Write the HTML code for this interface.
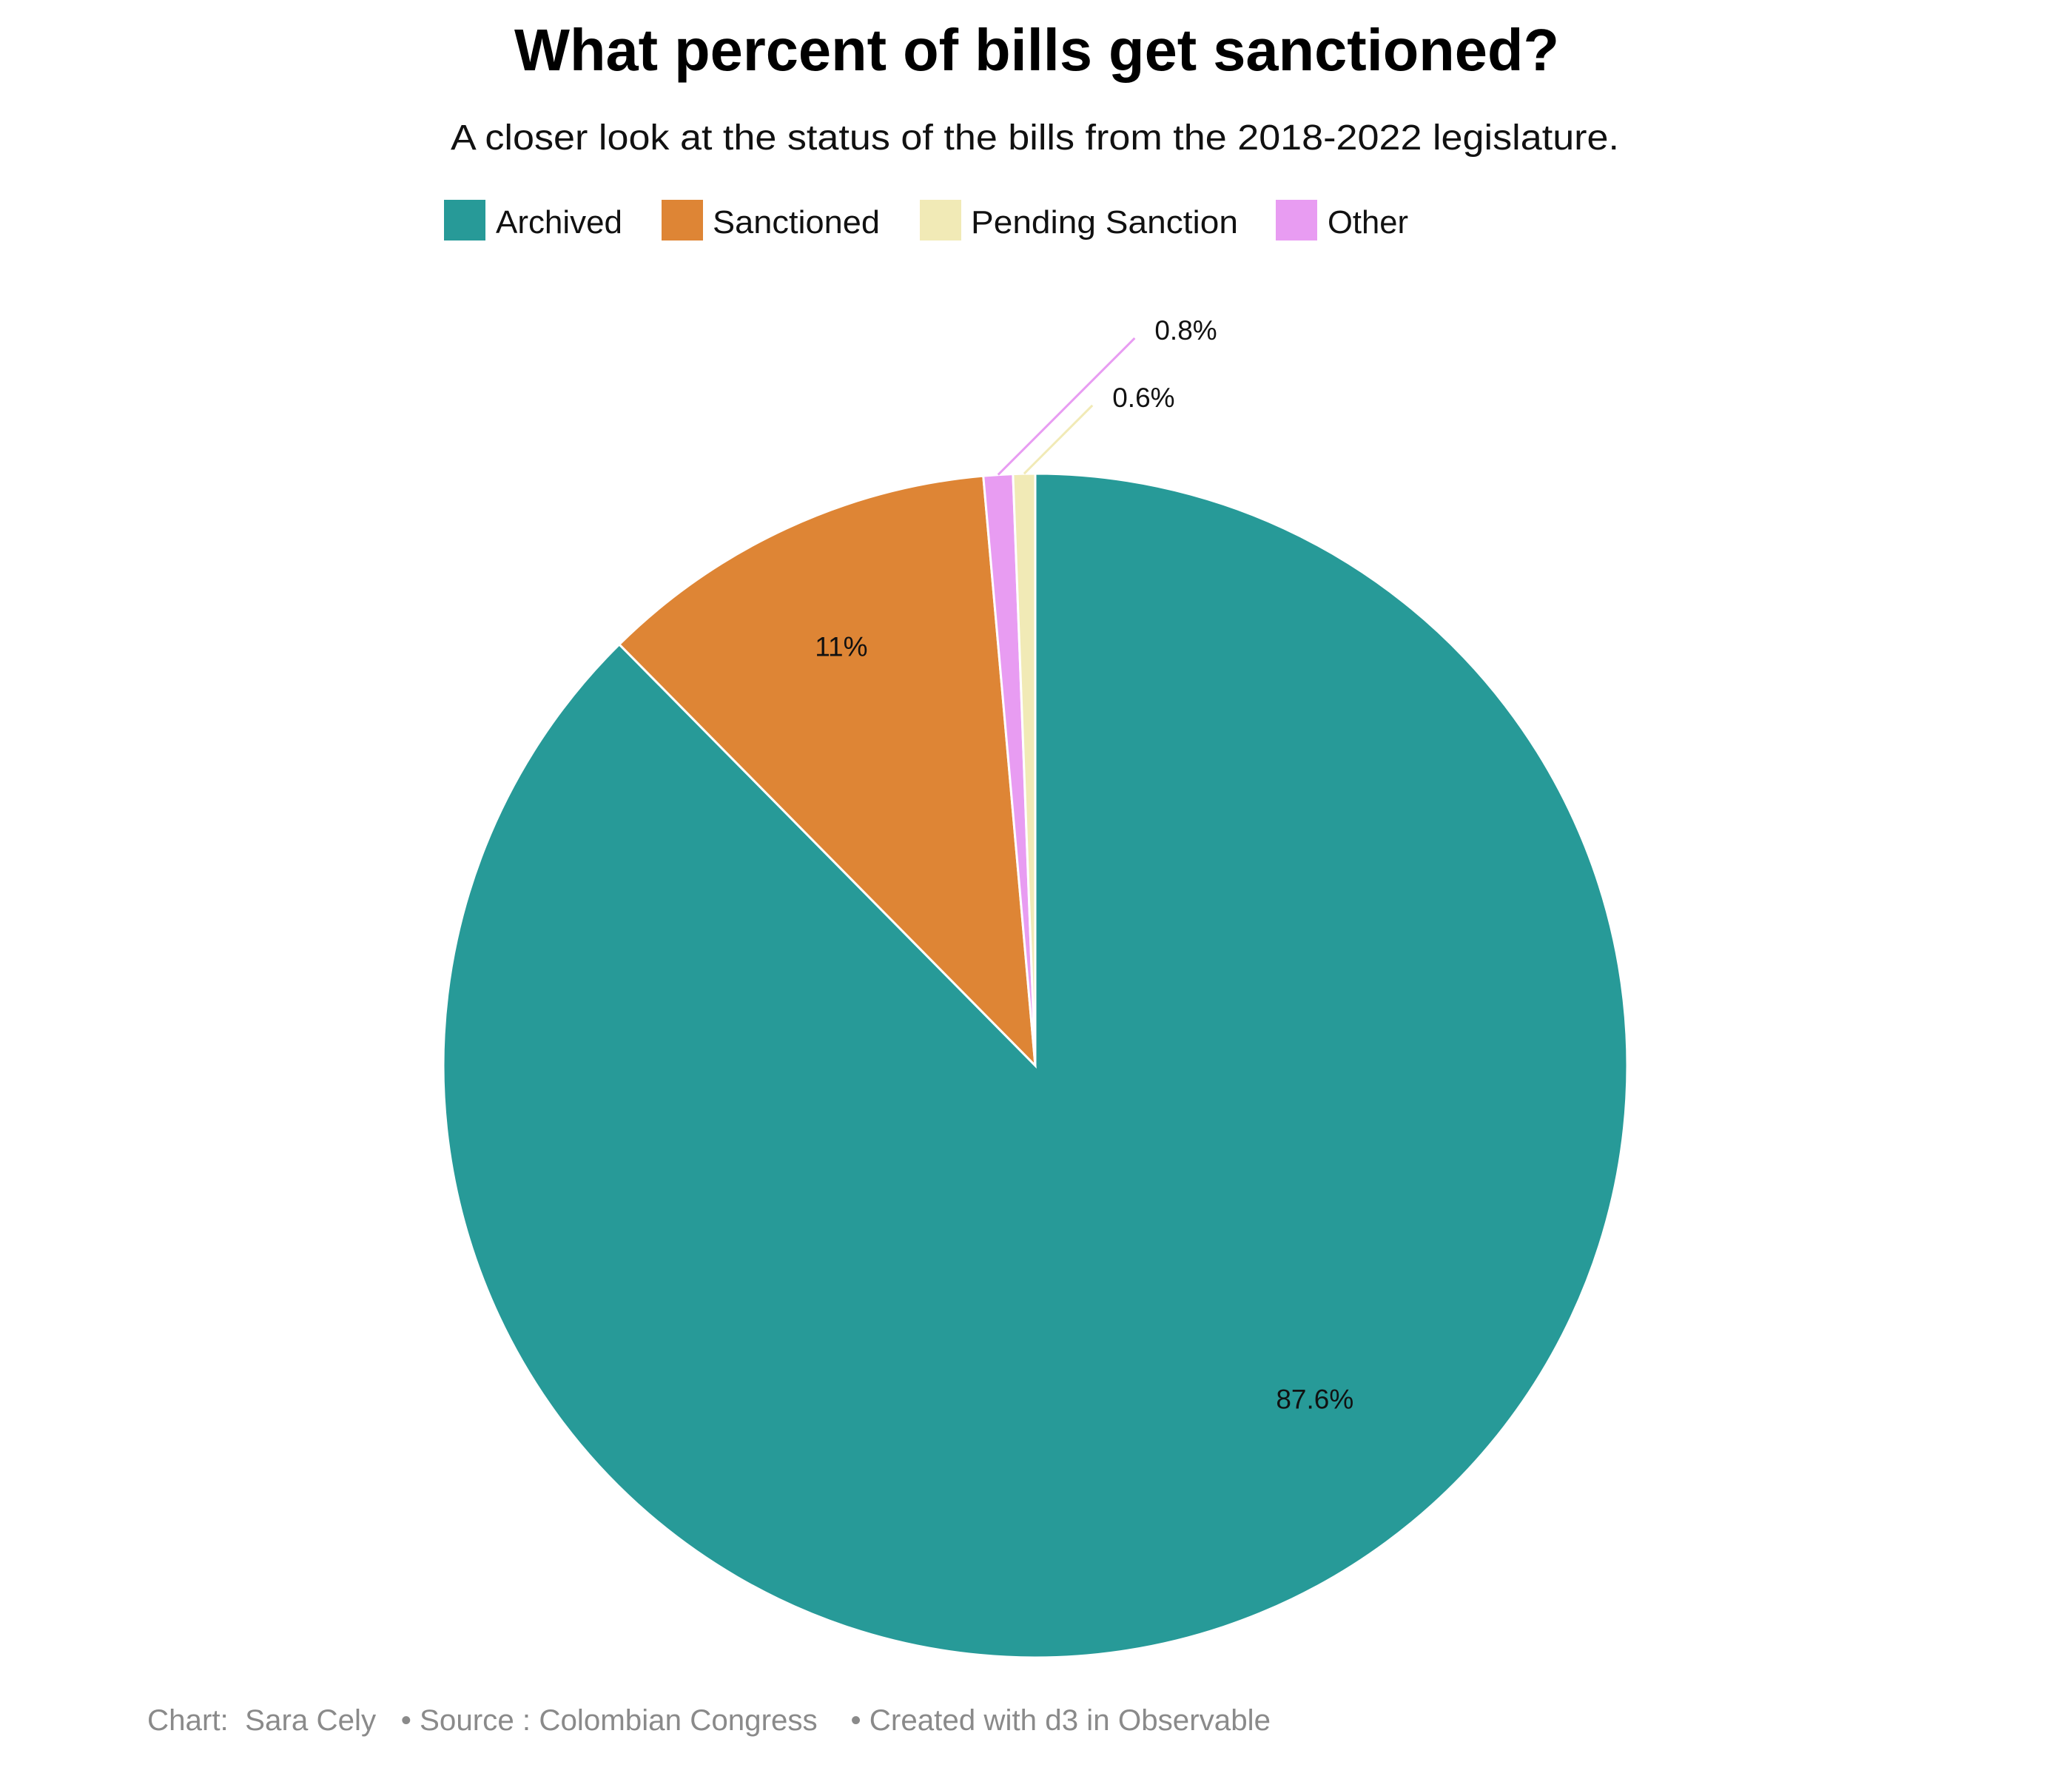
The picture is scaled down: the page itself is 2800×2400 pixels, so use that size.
<!DOCTYPE html>
<html><head><meta charset="utf-8"><style>html,body{margin:0;padding:0;background:#fff}svg{display:block}</style></head>
<body>
<svg id="chart" width="2800" height="2400" viewBox="0 0 2800 2400" xmlns="http://www.w3.org/2000/svg" font-family="'Liberation Sans', sans-serif">
<text x="695" y="95" font-size="80" font-weight="bold" textLength="1412" lengthAdjust="spacingAndGlyphs">What percent of bills get sanctioned?</text>
<text x="609" y="202" font-size="48" fill="#111" textLength="1579" lengthAdjust="spacingAndGlyphs">A closer look at the status of the bills from the 2018-2022 legislature.</text>
<g>
<g><rect x="600" y="270" width="56" height="55" fill="#279a98"/><text x="670" y="315" font-size="44" fill="#111" textLength="171" lengthAdjust="spacingAndGlyphs">Archived</text></g>
<g><rect x="894" y="270" width="56" height="55" fill="#de8535"/><text x="963" y="315" font-size="44" fill="#111" textLength="226" lengthAdjust="spacingAndGlyphs">Sanctioned</text></g>
<g><rect x="1243" y="270" width="56" height="55" fill="#f1eab6"/><text x="1312" y="315" font-size="44" fill="#111" textLength="361" lengthAdjust="spacingAndGlyphs">Pending  Sanction</text></g>
<g><rect x="1724" y="270" width="56" height="55" fill="#e89cf2"/><text x="1794" y="315" font-size="44" fill="#111" textLength="109" lengthAdjust="spacingAndGlyphs">Other</text></g>
</g>
<g id="slices"></g>
<g id="labels"></g>
<text x="199" y="2338" font-size="40" fill="#8a8a8a" textLength="1518" lengthAdjust="spacingAndGlyphs" xml:space="preserve">Chart:  Sara Cely   • Source : Colombian Congress    • Created with d3 in Observable</text>
</svg>
<script>
const categories = ["Archived", "Sanctioned", "Other", "Pending Sanction"];
const values = [87.6, 11, 0.8, 0.6];
const valueLabels = ["87.6%", "11%", "0.8%", "0.6%"];
const colors = ["#279a98", "#de8535", "#e89cf2", "#f1eab6"];

const NS = "http://www.w3.org/2000/svg";
const cx = 1399, cy = 1440, R = 800;
const total = values.reduce((a, b) => a + b, 0);
function pt(angle, r) { return [cx + r * Math.sin(angle), cy - r * Math.cos(angle)]; }
const gS = document.getElementById("slices"), gL = document.getElementById("labels");
let start = 0;
values.forEach((v, i) => {
  const span = v / total * 2 * Math.PI, end = start + span;
  const p0 = pt(start, R), p1 = pt(end, R);
  const path = document.createElementNS(NS, "path");
  path.setAttribute("d", `M${cx},${cy} L${p0[0]},${p0[1]} A${R},${R} 0 ${span > Math.PI ? 1 : 0} 1 ${p1[0]},${p1[1]} Z`);
  path.setAttribute("fill", colors[i]);
  path.setAttribute("stroke", "#fff");
  path.setAttribute("stroke-width", "3");
  
  
  gS.appendChild(path);
  const t = document.createElementNS(NS, "text");
  t.setAttribute("font-size", "37");
  t.setAttribute("fill", "#111");
  if (v / total >= 0.05) {
    const big = v / total > 0.5;
    const a = big ? start + span * 0.444 : start + span / 2;
    const p = pt(a, R * (big ? 0.735 : 0.78));
    t.setAttribute("x", p[0]); t.setAttribute("y", p[1] + 13);
    t.setAttribute("text-anchor", "middle");
  } else {
    const a = start + span / 2;
    const pa = pt(a, R);
    const ext = (i === 2) ? 260 : 130;
    const ex = pa[0] + ext * 0.71, ey = pa[1] - ext * 0.71;
    const ln = document.createElementNS(NS, "line");
    ln.setAttribute("x1", pa[0]); ln.setAttribute("y1", pa[1]);
    ln.setAttribute("x2", ex); ln.setAttribute("y2", ey);
    ln.setAttribute("stroke", colors[i]); ln.setAttribute("stroke-width", "3");
    
    
    gL.appendChild(ln);
    t.setAttribute("x", ex + 27); t.setAttribute("y", ey + 2);
  }
  t.textContent = valueLabels[i];
  
  
  gL.appendChild(t);
  start = end;
});
</script>
</body></html>
